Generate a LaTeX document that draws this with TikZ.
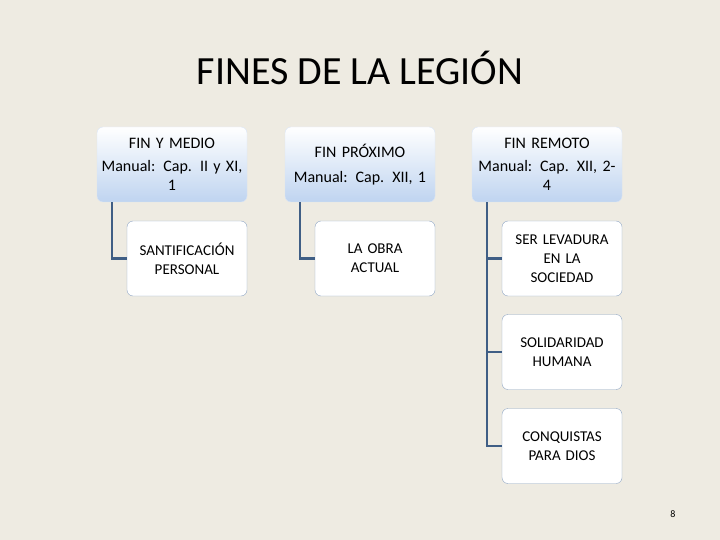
\documentclass[tikz,border=0pt]{standalone}
\usepackage{fontspec}
\setmainfont{Carlito}
\definecolor{bg}{HTML}{EEEBE2}
\definecolor{hb}{HTML}{BFD4F0}
\definecolor{cn}{HTML}{3F5E85}
\definecolor{kb}{HTML}{8FA6C4}
\begin{document}
\begin{tikzpicture}[x=1pt,y=-1pt,
 hdr/.style={rounded corners=6pt,top color=white,bottom color=hb,draw=hb!60!white,minimum width=150pt,minimum height=75pt,align=center,font=\fontsize{16}{19}\selectfont,text width=142pt,inner sep=1pt},
 kid/.style={rounded corners=6pt,fill=white,draw=kb,minimum width=120pt,minimum height=75pt,align=center,font=\fontsize{15}{19}\selectfont,text width=115pt,inner sep=1pt},
 con/.style={draw=cn,line width=2.5pt}]
\fill[bg] (0,0) rectangle (720,540);
\useasboundingbox (0,0) rectangle (720,540);
\node (t) at (360,68) {\fontsize{40}{46}\selectfont FINES DE LA LEGIÓN};
\node[hdr] (h1) at (172,164.5) {FIN Y MEDIO\\[4pt]Manual: Cap. II y XI,\\1};
\node[hdr] (h2) at (360,164.5) {FIN PRÓXIMO\\[6pt]Manual: Cap. XII, 1};
\node[hdr] (h3) at (547,164.5) {FIN REMOTO\\[4pt]Manual: Cap. XII, 2-\\4};
\node[kid] (k1) at (187,258.5) {SANTIFICACIÓN\\PERSONAL};
\node[kid] (k2) at (375,258.5) {LA OBRA\\ACTUAL};
\node[kid] (k3) at (562,258.5) {SER LEVADURA\\EN LA\\SOCIEDAD};
\node[kid] (k4) at (562,352) {SOLIDARIDAD\\HUMANA};
\node[kid] (k5) at (562,446) {CONQUISTAS\\PARA DIOS};
\draw[con] ([xshift=-60pt]h1.south) |- (k1.west);
\draw[con] ([xshift=-60pt]h2.south) |- (k2.west);
\draw[con] ([xshift=-60pt]h3.south) |- (k3.west);
\draw[con] ([xshift=-60pt]h3.south) |- (k4.west);
\draw[con] ([xshift=-60pt]h3.south) |- (k5.west);
\node (n) at (673,514) {\fontsize{10}{12}\selectfont 8};
\end{tikzpicture}
\end{document}
